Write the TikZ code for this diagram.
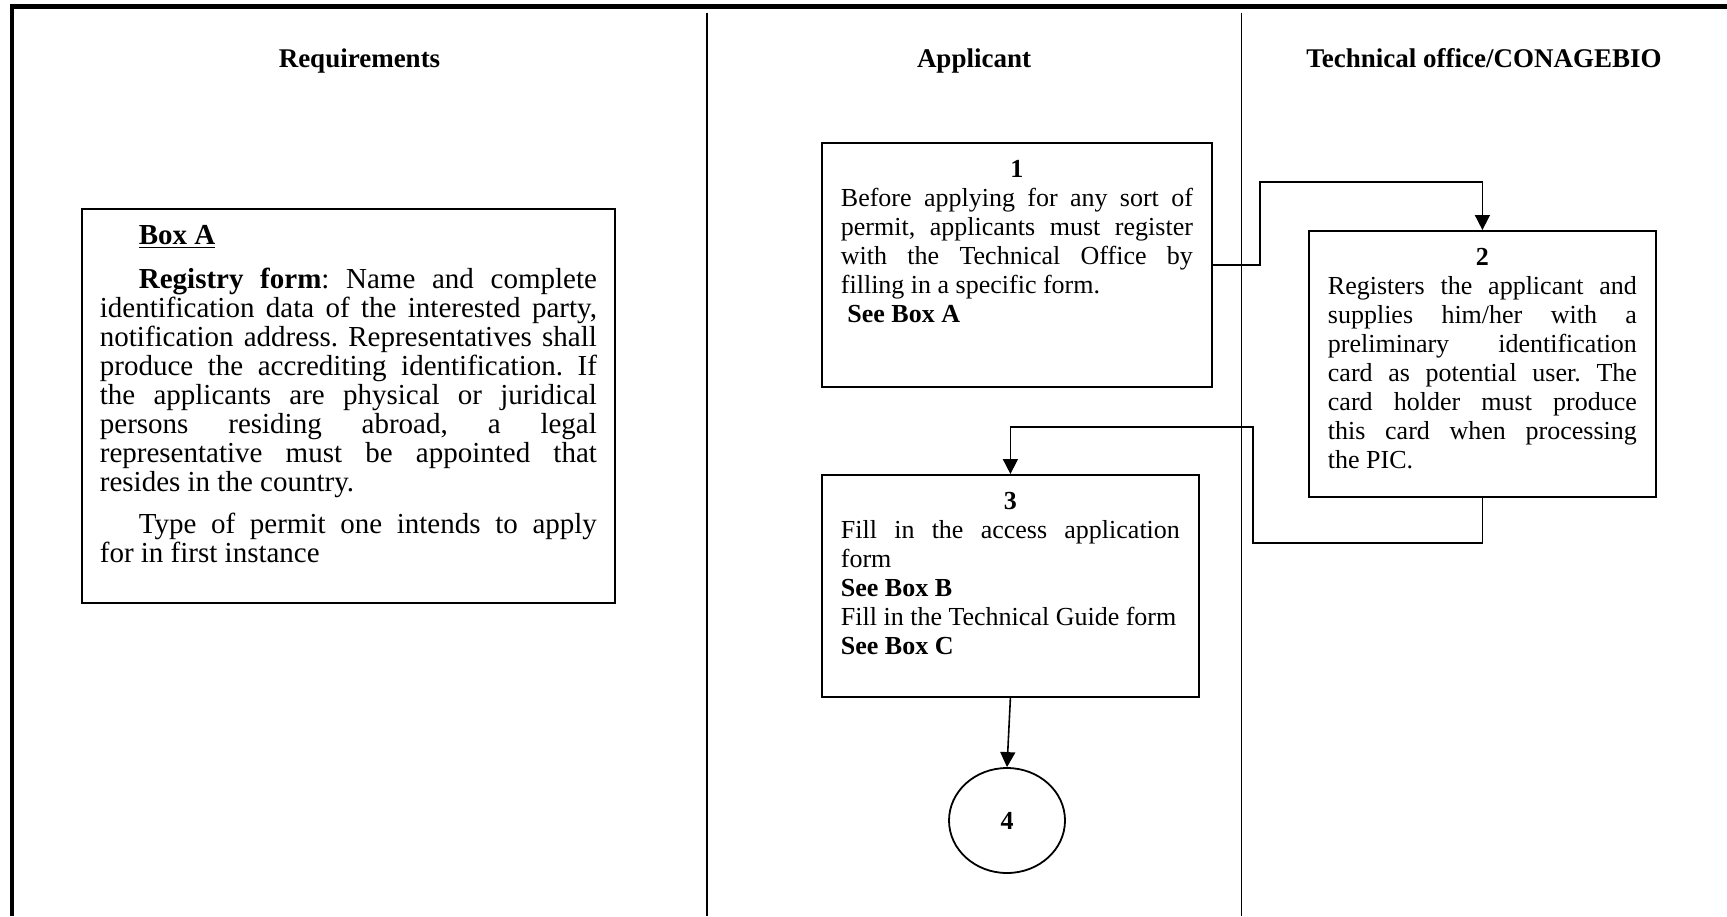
\documentclass[tikz,border=0pt]{standalone}
\usepackage{fontspec}
\setmainfont{Liberation Serif}
\usetikzlibrary{arrows.meta,shapes.geometric}
\frenchspacing
\newcommand{\boxbody}[4]{\begin{minipage}[t][#1][t]{#2}\vspace*{#3}\frenchspacing\hyphenpenalty=10000 \exhyphenpenalty=10000 \emergencystretch=20pt #4\end{minipage}}
\tikzset{
  frameline/.style={line width=2.2pt},
  laneline/.style={line width=0.9pt},
  procbox/.style={draw, line width=0.9pt, inner ysep=0pt, inner xsep=9.5pt, anchor=north west, font=\fontsize{13}{14.5}\selectfont},
  hdr/.style={font=\fontsize{13.5}{15}\selectfont\bfseries, inner sep=0pt, anchor=base},
  arr/.style={line width=0.8pt, -{Triangle[length=7.5pt,width=7.5pt]}},
}
\begin{document}
\begin{tikzpicture}[x=0.5pt,y=-0.5pt]
\useasboundingbox (0,0) rectangle (1727,916);
\fill[white] (0,0) rectangle (1727,916);
% frame and lanes
\draw[frameline] (12,916) -- (12,6.6) -- (1727,6.6);
\draw[laneline] (707,12.5) -- (707,916);
\draw[laneline] (1241.5,12.5) -- (1241.5,916);
% headers
\node[hdr] (hreq) at (359.5,67) {Requirements};
\node[hdr] (happ) at (974,67) {Applicant};
\node[hdr] (htec) at (1484,67) {Technical office/CONAGEBIO};
% Box A
\node[procbox, inner xsep=9pt, font=\fontsize{14.5}{14.5}\selectfont] (boxa) at (81,208)
 {\boxbody{197pt}{248.5pt}{7.5pt}{\parindent=19.5pt \parskip=6.5pt
 \strut\textbf{\underline{Box A}}\par
 \textbf{Registry form}: Name and complete\linebreak
 identification data of the interested party,\linebreak
 notification address. Representatives shall\linebreak
 produce the accrediting identification. If\linebreak
 the applicants are physical or juridical\linebreak
 persons residing abroad, a legal\linebreak
 representative must be appointed that\linebreak
 resides in the country.\par
 Type of permit one intends to apply\linebreak
 for in first instance\par}};
% Box 1
\node[procbox] (b1) at (821,142)
 {\boxbody{122pt}{176pt}{7.2pt}{\centerline{\strut\textbf{1}}
 Before applying for any sort of\linebreak
 permit, applicants must register\linebreak
 with the Technical Office by\linebreak
 filling in a specific form.\par
 \textbf{\ See Box A}\par}};
% Box 2
\node[procbox] (b2) at (1308,230)
 {\boxbody{133pt}{154.5pt}{7.2pt}{\centerline{\strut\textbf{2}}
 Registers the applicant and\linebreak
 supplies him/her with a\linebreak
 preliminary identification\linebreak
 card as potential user. The\linebreak
 card holder must produce\linebreak
 this card when processing\linebreak
 the PIC.\par}};
% Box 3
\node[procbox] (b3) at (821,474)
 {\boxbody{111pt}{169.5pt}{7.2pt}{\centerline{\strut\textbf{3}}
 Fill in the access application\linebreak
 form\par
 \textbf{See Box B}\par
 \mbox{Fill in the Technical Guide form}\par
 \textbf{See Box C}\par}};
% Connector 4
\node[draw, ellipse, line width=0.9pt, minimum width=58pt, minimum height=52.5pt, inner sep=0pt,
  font=\fontsize{13}{14.5}\selectfont\bfseries] (e4) at (1007,820.5) {4};
% connectors
\coordinate (c1) at (1260,182);
\coordinate (c2) at (1253,543);
\coordinate (c3) at (1253,427);
\draw[arr] (b1.east) -| (c1) -| (b2.north);
\draw[arr] (b2.south) |- (c2) -- (c3) -| (b3.north);
\draw[arr] (b3.south) -- (e4.north);
\end{tikzpicture}
\end{document}
